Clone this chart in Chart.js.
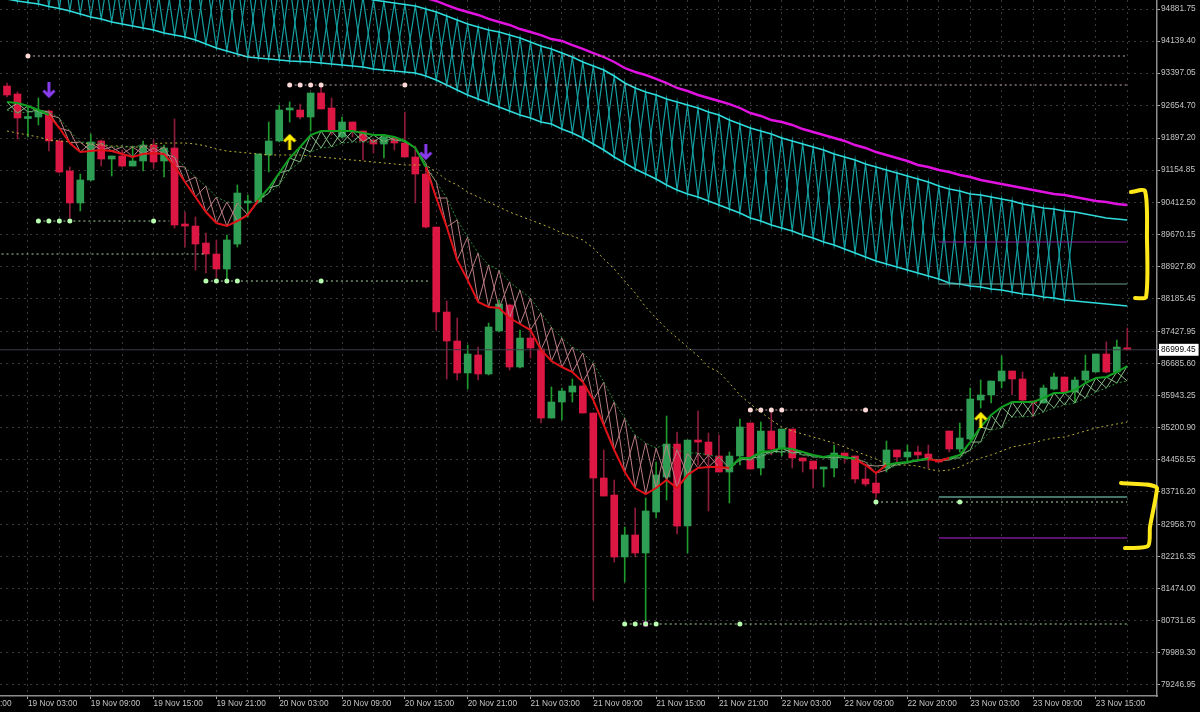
<!DOCTYPE html>
<html><head><meta charset="utf-8">
<style>html,body{margin:0;padding:0;background:#000;overflow:hidden}canvas{display:block}</style>
<script src="https://cdn.jsdelivr.net/npm/chart.js@4/dist/chart.umd.min.js"></script>
</head><body><canvas id="c" width="1200" height="712"></canvas>
<script>
const opens=[93101,92916,92349,92384,92523,91829,91135,90395,90927,91829,91412,91482,91250,91366,91736,91366,91667,89909,89862,89469,89215,88868,89446,90395,90418,91505,91829,92546,92546,92384,92939,92592,91921,92268,92060,91852,91759,91898,91782,91459,91065,89839,87873,87203,86463,86879,86440,87434,88035,86601,87272,87018,85421,85792,86023,86162,85537,84034,83640,82207,82716,82299,83248,84057,84820,82923,84913,84866,84543,84173,84543,85306,84265,85121,84728,85167,84497,84427,84242,84265,84612,84543,84011,83918,84265,84682,84520,84635,84589,84450,85121,84705,84936,85838,85954,86277,86509,86324,85815,85769,86092,86370,86023,86301,86486,86902,86486,87041];
const highs=[93170,92962,92615,92823,92546,91852,91227,91065,91991,91852,91482,91621,91713,91829,91852,91736,92338,90186,90071,89701,89539,89654,90811,90580,91528,92268,92661,92731,92684,92939,93078,92823,92384,92268,92060,91852,91968,91898,92499,91713,91227,89839,88128,87735,87110,87064,87619,88151,88058,87457,87503,87018,86139,86116,86324,86185,85537,84682,83988,82900,83340,83571,84404,85468,85098,84913,85584,85075,85028,84635,85398,85306,85329,85560,85167,85167,84497,84427,84288,84797,84612,84543,84288,84173,84890,84682,84797,84774,84797,84450,85121,85306,86116,86301,86277,86856,86509,86486,85815,86185,86463,86370,86370,86879,86902,87180,87226,87503];
const lows=[92846,91875,91921,92199,91597,91089,90048,90210,90904,91250,91019,91227,91250,91135,91204,90996,89816,89377,88845,88776,88660,88544,89377,90071,90395,91112,91806,92268,92338,92060,92569,91968,91898,91921,91389,91551,91435,91621,91459,90395,89816,87457,86324,86301,86092,86301,86416,87411,86532,86578,86809,85306,85421,85375,85792,85537,81212,83617,82091,81628,82207,80680,83109,83525,82739,82299,84334,83271,84173,83456,84334,84242,84103,84566,84543,84265,84173,83803,83826,84057,84381,83918,83849,83571,84173,84404,84381,84450,84265,84404,84635,84635,84913,85653,85769,86116,85954,85815,85445,85769,86069,86023,85769,86254,86486,86463,86486,86995];
const closes=[92893,92361,92384,92523,91829,91112,90395,90927,91806,91412,91482,91250,91366,91736,91343,91667,89886,89862,89446,89215,88868,89539,90626,90441,91528,91829,92546,92569,92384,92939,92569,92037,92268,92060,91829,91759,91921,91782,91459,91065,89839,87873,87203,86463,86902,86440,87527,88058,86601,87272,87041,85421,85792,86046,86162,85537,84034,83617,82207,82716,82299,83271,84103,84820,82923,84913,84866,84566,84173,84543,85214,84242,85121,84705,85167,84497,84427,84242,84288,84612,84543,84011,83895,83687,84682,84520,84635,84566,84450,84404,84705,84959,85861,85954,86277,86509,86324,85838,85769,86116,86370,86023,86301,86509,86902,86486,87064,86999.45];

const fastLine=[92731,92708,92638,92546,92430,92129,91782,91574,91597,91621,91597,91528,91459,91528,91551,91528,91250,90880,90533,90186,89932,89862,89978,90117,90464,90742,91089,91435,91690,91968,92060,92060,92060,92060,92014,91968,91968,91921,91829,91667,91227,90510,89839,89076,88614,88105,87989,87966,87735,87596,87457,86995,86740,86601,86486,86254,85838,85260,84682,84173,83803,83664,83803,83988,83803,84103,84265,84288,84288,84265,84497,84497,84635,84658,84728,84705,84635,84566,84520,84566,84520,84473,84334,84149,84334,84381,84404,84450,84473,84427,84497,84566,84866,85214,85491,85676,85792,85792,85792,85884,86000,86000,86069,86231,86347,86370,86486,86624];
const slowLine=[92546,92476,92499,92499,92499,92361,92060,91806,91782,91782,91690,91690,91690,91736,91667,91690,91459,91227,90996,90788,90533,90418,90395,90140,90418,90626,90811,91158,91343,91574,91667,91690,91782,91806,91806,91806,91806,91852,91806,91667,91320,90880,90510,90001,89608,89238,88960,88845,88567,88382,88197,87850,87527,87272,87064,86925,86694,86254,85792,85421,85028,84843,84728,84820,84682,84612,84612,84566,84520,84219,84450,84450,84520,84612,84635,84612,84566,84520,84497,84497,84497,84497,84404,84311,84219,84334,84381,84427,84497,84450,84450,84497,84682,84866,85144,85190,85445,85445,85468,85560,85653,85722,85769,85884,86023,86116,86231,86277];
const longAverage=[92060,92014,91968,91921,91852,91829,91806,91782,91759,91736,91713,91713,91690,91690,91759,91782,91782,91782,91759,91713,91644,91597,91574,91551,91528,91505,91505,91505,91505,91482,91459,91435,91412,91389,91366,91343,91320,91297,91274,91274,91274,91112,90927,90811,90649,90533,90418,90302,90186,90094,90001,89909,89816,89701,89631,89539,89354,89099,88868,88590,88313,87989,87735,87480,87272,87064,86856,86601,86486,86231,85954,85746,85560,85375,85214,85121,85051,84982,84913,84843,84751,84658,84566,84473,84358,84334,84334,84311,84242,84196,84219,84288,84404,84497,84566,84658,84751,84797,84843,84913,84959,84982,85051,85121,85190,85237,85283,85329];
const cloudUpper=[96732,96686,96640,96593,96547,96501,96432,96385,96316,96270,96200,96154,96108,96061,95992,95946,95876,95807,95738,95668,95599,95576,95553,95553,95529,95506,95483,95460,95437,95414,95368,95321,95275,95229,95159,95090,95055,95021,94986,94951,94882,94812,94720,94627,94535,94465,94396,94350,94280,94211,94119,94026,93957,93864,93772,93656,93563,93471,93332,93170,93055,92962,92893,92800,92731,92661,92592,92499,92430,92314,92222,92129,92060,91991,91898,91829,91759,91690,91621,91528,91459,91389,91297,91227,91158,91089,91019,90950,90880,90788,90718,90672,90603,90580,90533,90487,90441,90371,90325,90279,90256,90210,90186,90140,90094,90048,90025,90001];
const cloudLower=[95113,95067,95032,94997,94940,94893,94836,94766,94697,94651,94581,94535,94489,94442,94396,94327,94280,94234,94165,94072,93980,93910,93841,93772,93748,93725,93702,93679,93667,93656,93633,93610,93587,93563,93540,93494,93471,93448,93425,93401,93332,93240,93124,93008,92893,92800,92708,92615,92523,92430,92361,92268,92222,92106,92014,91898,91759,91621,91459,91320,91181,91065,90950,90811,90695,90603,90533,90441,90348,90256,90163,90048,89978,89886,89816,89747,89654,89585,89492,89423,89331,89238,89146,89053,88984,88914,88845,88776,88706,88637,88544,88521,88475,88452,88405,88382,88336,88290,88267,88220,88197,88151,88128,88105,88082,88058,88035,88012];
const magentaStart=40;
const magentaLine=[95136,95067,94974,94882,94812,94743,94651,94581,94512,94419,94350,94280,94188,94142,94049,93957,93864,93772,93656,93517,93425,93355,93263,93170,93055,92985,92893,92823,92754,92684,92592,92476,92407,92314,92268,92199,92106,92037,91968,91898,91829,91736,91667,91574,91505,91435,91366,91274,91227,91158,91112,91042,90996,90927,90880,90834,90788,90742,90695,90649,90603,90580,90533,90487,90441,90418,90371,90348];
const cloudHatchEnd=102;

const resistance=[{price:93795,from:2,to:107,dots:[2]},{price:93124,from:27,to:107,dots:[27,28,29,30,38]},{price:85607,from:71,to:91.5,dots:[71,72,73,74,82]}];
const support=[{price:89978,from:3,to:15.5,dots:[3,4,5,6,14]},{price:89215,from:-1,to:19,dots:[]},{price:88590,from:19,to:40.4,dots:[19,20,21,22,30]},{price:83479,from:83,to:107,dots:[83,91]},{price:80657,from:59,to:107,dots:[59,60,61,62,70]}];
const fixedLevels=[{price:89492,from:89,to:107,color:'#8a1f9c',w:1},{price:88521,from:89,to:107,color:'#6f9d93',w:1},{price:83594,from:89,to:107,color:'#5c9c8c',w:1.5},{price:82646,from:89,to:107,color:'#7a1a8c',w:1.5}];
const bidPrice=86999.45;
const upArrows=[{x:27,y:91806},{x:93,y:85375}];
const downArrows=[{x:4,y:93008},{x:40,y:91574}];
const bracketTop=[{x:107.35,y:90649},{x:108.69,y:90672},{x:108.88,y:89608},{x:108.79,y:88220},{x:107.74,y:88197}];
const bracketBottom=[{x:106.4,y:83918},{x:109.84,y:83803},{x:109.17,y:82900},{x:108.98,y:82461},{x:106.78,y:82415}];

const priceTicks=[94881.75,94139.40,93397.05,92654.70,91897.20,91154.85,90412.50,89670.15,88927.80,88185.45,87427.95,86685.60,85943.25,85200.90,84458.55,83716.20,82958.70,82216.35,81474.00,80731.65,79989.30,79246.95];
const timeLabels=['19 Nov 03:00','19 Nov 09:00','19 Nov 15:00','19 Nov 21:00','20 Nov 03:00','20 Nov 09:00','20 Nov 15:00','20 Nov 21:00','21 Nov 03:00','21 Nov 09:00','21 Nov 15:00','21 Nov 21:00','22 Nov 03:00','22 Nov 09:00','22 Nov 20:00','23 Nov 03:00','23 Nov 09:00','23 Nov 15:00'];
const clippedLabel=':00';
const xMin=-0.669,xMax=109.84,yMin=78992,yMax=95090;

const RED='#dc1744',GREEN='#2f9e55',RW='#8c1c3c',GW='#1f9a2c';
const n=opens.length,idx=[...Array(n).keys()];
const isUp=i=>closes[i]>=opens[i];
const regimeUp=i=>fastLine[i]>=slowLine[i];
function arrow(color,up){const c=document.createElement('canvas');c.width=14;c.height=16;const g=c.getContext('2d');
 g.strokeStyle=color;g.lineWidth=3;g.lineCap='butt';g.beginPath();
 if(up){g.moveTo(7,16);g.lineTo(7,2);g.moveTo(1.5,7.5);g.lineTo(7,2);g.lineTo(12.5,7.5);}
 else{g.moveTo(7,0);g.lineTo(7,14);g.moveTo(1.5,8.5);g.lineTo(7,14);g.lineTo(12.5,8.5);}
 g.stroke();return c;}
const line=(data,o)=>Object.assign({type:'line',data,pointRadius:0,borderWidth:1,fill:false,tension:0,spanGaps:false},o);
const zig=(a,b,end,flip)=>idx.filter(i=>i<=end).map(i=>({x:i,y:((i%2===0)!==flip)?a[i]:b[i]}));
const series=(arr,start=0)=>arr.map((y,i)=>({x:i+start,y}));
const hatchColor=c=>regimeUp(c.p0DataIndex)?'#86b886':'#bb7d84';
const ds=[];
ds.push({type:'bar',order:100,data:idx.map(i=>({x:i,y:[lows[i],highs[i]]})),backgroundColor:idx.map(i=>isUp(i)?GW:RW),barThickness:1,grouped:false});
ds.push({type:'bar',order:99,data:idx.map(i=>({x:i,y:[Math.min(opens[i],closes[i]),Math.max(opens[i],closes[i])]})),backgroundColor:idx.map(i=>isUp(i)?GREEN:RED),barThickness:7,minBarLength:2,grouped:false});
ds.push(line([{x:xMin,y:bidPrice},{x:xMax,y:bidPrice}],{order:95,borderColor:'#3c3c4c'}));
ds.push(line(zig(cloudUpper,cloudLower,cloudHatchEnd,false),{order:60,borderColor:'#14a0a2',borderWidth:1.2}));
ds.push(line(zig(cloudUpper,cloudLower,cloudHatchEnd,true),{order:60,borderColor:'#14a0a2',borderWidth:1.2}));
ds.push(line(series(cloudUpper),{order:50,borderColor:'#2fdcdc',borderWidth:1.6}));
ds.push(line(series(cloudLower),{order:50,borderColor:'#2fdcdc',borderWidth:1.6}));
ds.push(line(series(magentaLine,magentaStart),{order:50,borderColor:'#e012e0',borderWidth:2.4}));
ds.push(line(series(longAverage),{order:45,borderColor:'#bdb236',borderDash:[2,3]}));
ds.push(line(zig(fastLine,slowLine,n-1,false),{order:40,segment:{borderColor:hatchColor}}));
ds.push(line(zig(fastLine,slowLine,n-1,true),{order:40,segment:{borderColor:hatchColor}}));
ds.push(line(series(slowLine),{order:39,borderColor:'#2c8a3c',borderDash:[2,2]}));
ds.push(line(series(fastLine),{order:38,borderWidth:2,segment:{borderColor:c=>regimeUp(c.p0DataIndex)?'#10a020':'#e01218'}}));
fixedLevels.forEach(l=>ds.push(line([{x:l.from,y:l.price},{x:l.to,y:l.price}],{order:36,borderColor:l.color,borderWidth:l.w})));
const addLevels=(arr,lc,dc)=>arr.forEach(l=>{
 ds.push(line([{x:l.from,y:l.price},{x:l.to,y:l.price}],{order:34,borderColor:lc,borderDash:[2,3]}));
 if(l.dots.length)ds.push({type:'scatter',order:30,data:l.dots.map(x=>({x,y:l.price})),pointRadius:2.5,backgroundColor:dc,borderWidth:0});
});
addLevels(resistance,'#c8aeae','#ffd8d8');
addLevels(support,'#a9d6a0','#b8ffb0');
ds.push({type:'scatter',order:32,data:[{x:61,y:80657}],pointStyle:'rect',pointRadius:3.4,backgroundColor:'#e020e0',borderWidth:0});
ds.push({type:'scatter',order:20,data:upArrows,pointStyle:arrow('#ffee00',true)});
ds.push({type:'scatter',order:20,data:downArrows,pointStyle:arrow('#8a3cf0',false)});
ds.push(line(bracketTop,{order:10,borderColor:'#ffe81a',borderWidth:4,tension:.25,clip:false,borderCapStyle:'round',borderJoinStyle:'round'}));
ds.push(line(bracketBottom,{order:10,borderColor:'#ffe81a',borderWidth:4,tension:.25,clip:false,borderCapStyle:'round',borderJoinStyle:'round'}));

const FONT={family:'"Liberation Sans"',size:8.3};
new Chart(document.getElementById('c'),{
 data:{datasets:ds},
 options:{responsive:false,devicePixelRatio:1,animation:false,layout:{padding:0,autoPadding:false},events:[],
  plugins:{legend:{display:false},tooltip:{enabled:false},title:{display:false}},
  scales:{
   x:{type:'linear',min:xMin,max:xMax,offset:false,
    afterBuildTicks(s){const t=[{value:xMin}];for(let v=2;v<xMax;v+=3)t.push({value:v});s.ticks=t;},
    afterFit(s){s.height=16;s.paddingLeft=0;s.paddingRight=0;},
    grid:{offset:false,color:c=>c.tick&&c.tick.value===xMin?'transparent':'#383838',lineWidth:1,tickLength:3,tickColor:c=>c.tick&&(c.tick.value-2)%6===0?'#aaa':'transparent'},
    border:{display:true,color:'#8c8c8c',width:1.5,dash:[2,4]},
    ticks:{autoSkip:false,maxRotation:0,minRotation:0,align:'start',padding:0,color:'#c4c4c4',font:FONT,
     callback(v){if(v===xMin)return clippedLabel;const k=(v-2)/6;return Number.isInteger(k)?timeLabels[k]:'';}}},
   y:{type:'linear',position:'right',min:yMin,max:yMax,
    afterBuildTicks(s){s.ticks=[...priceTicks,bidPrice].sort((a,b)=>b-a).map(value=>({value}));},
    afterFit(s){s.width=43;s.paddingTop=0;s.paddingBottom=0;},
    grid:{color:c=>c.tick&&c.tick.value===bidPrice?'transparent':'#383838',lineWidth:1,tickLength:3,tickColor:'#aaa'},
    border:{display:true,color:'#8c8c8c',width:1.5,dash:[2,4]},
    ticks:{autoSkip:false,padding:1,color:c=>c.tick&&c.tick.value===bidPrice?'#000':'#c4c4c4',font:FONT,
     showLabelBackdrop:c=>!!(c.tick&&c.tick.value===bidPrice),backdropColor:'#fff',backdropPadding:{top:1,bottom:1,left:2,right:3},
     callback:v=>Number(v).toFixed(2)}}
  }}
});
</script></body></html>
